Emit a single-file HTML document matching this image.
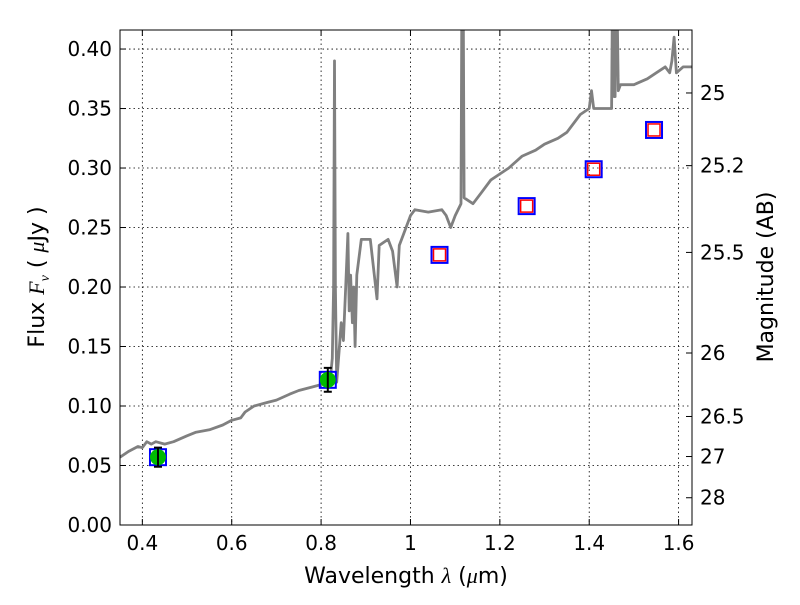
<!DOCTYPE html>
<html><head><meta charset="utf-8"><style>
body{margin:0;background:#fff;}
svg text{font-family:"DejaVu Sans","Liberation Sans",sans-serif;fill:#000;}
</style></head><body>
<svg id="chart" width="800" height="600" viewBox="0 0 800 600" xmlns="http://www.w3.org/2000/svg">
<g id="grid"></g>
<g id="spec"></g>
<g id="marks"></g>
<rect x="120" y="30" width="572" height="495" fill="none" stroke="#000" stroke-width="1"/>
<g id="axes"></g>
<text x="406" y="583" font-size="22" text-anchor="middle">Wavelength  <tspan font-style="italic" font-family="Liberation Serif">λ</tspan> (<tspan font-style="italic" font-family="Liberation Serif">μ</tspan>m)</text>
<text transform="translate(44,277) rotate(-90)" font-size="22" text-anchor="middle">Flux  <tspan font-style="italic" font-family="Liberation Serif">F</tspan><tspan font-style="italic" font-family="Liberation Serif" font-size="14" dy="5">ν</tspan><tspan dy="-5">   (  </tspan><tspan font-style="italic" font-family="Liberation Serif">μ</tspan>Jy )</text>
<text transform="translate(773,277) rotate(-90)" font-size="22" text-anchor="middle">Magnitude (AB)</text>
</svg>
<script>
const xTicks=[0.4,0.6,0.8,1.0,1.2,1.4,1.6];
const xTickLabels=["0.4","0.6","0.8","1","1.2","1.4","1.6"];
const yTicks=[0,0.05,0.10,0.15,0.20,0.25,0.30,0.35,0.40];
const yTickLabels=["0.00","0.05","0.10","0.15","0.20","0.25","0.30","0.35","0.40"];
const magTicks=[25,25.2,25.5,26,26.5,27,28];
const magTickLabels=["25","25.2","25.5","26","26.5","27","28"];
const specWave=[0.35,0.37,0.39,0.40,0.41,0.42,0.43,0.45,0.47,0.5,0.52,0.55,0.58,0.6,0.62,0.63,0.65,0.68,0.7,0.73,0.75,0.78,0.8,0.82,0.825,0.828,0.83,0.832,0.835,0.84,0.845,0.85,0.855,0.86,0.863,0.866,0.87,0.873,0.876,0.88,0.89,0.91,0.925,0.93,0.95,0.96,0.97,0.975,0.985,1.0,1.01,1.04,1.07,1.08,1.09,1.1,1.113,1.115,1.118,1.12,1.14,1.16,1.18,1.2,1.22,1.25,1.28,1.3,1.33,1.35,1.38,1.4,1.405,1.41,1.45,1.452,1.454,1.456,1.458,1.46,1.462,1.465,1.47,1.5,1.53,1.55,1.57,1.58,1.585,1.59,1.595,1.61,1.63];
const specFlux=[0.057,0.062,0.066,0.065,0.07,0.068,0.07,0.068,0.07,0.075,0.078,0.08,0.084,0.088,0.09,0.095,0.1,0.103,0.105,0.11,0.113,0.116,0.118,0.12,0.14,0.2,0.39,0.2,0.12,0.145,0.17,0.155,0.2,0.245,0.18,0.21,0.17,0.2,0.15,0.21,0.24,0.24,0.19,0.235,0.24,0.23,0.2,0.235,0.245,0.26,0.265,0.263,0.265,0.26,0.25,0.26,0.27,0.45,0.45,0.275,0.27,0.28,0.29,0.295,0.3,0.31,0.315,0.32,0.325,0.33,0.345,0.35,0.365,0.35,0.35,0.45,0.45,0.36,0.36,0.45,0.45,0.365,0.37,0.37,0.375,0.38,0.385,0.38,0.39,0.41,0.38,0.385,0.385];
const photWave=[0.435,0.815,1.065,1.26,1.41,1.545];
const photFlux=[0.057,0.122,0.227,0.268,0.299,0.332];
const photErr=[0.008,0.01,0,0,0,0];
const photDetected=[true,true,false,false,false,false];

const X0=120,X1=692,Y0=525,Y1=30,XMIN=0.35,XMAX=1.63,YMIN=0,YMAX=0.416;
const sx=v=>X0+(v-XMIN)/(XMAX-XMIN)*(X1-X0);
const sy=v=>Y0-(v-YMIN)/(YMAX-YMIN)*(Y0-Y1);
const NS="http://www.w3.org/2000/svg";
function mk(tag,attrs,parent){const e=document.createElementNS(NS,tag);for(const k in attrs)e.setAttribute(k,attrs[k]);parent.appendChild(e);return e;}
const grid=document.getElementById('grid'),axes=document.getElementById('axes');
xTicks.forEach((t,i)=>{const x=sx(t);
 let g=mk('line',{x1:x,x2:x,y1:Y1,y2:Y0,stroke:'#000','stroke-width':0.8,'stroke-dasharray':'1.5,3'},grid);
 
 mk('line',{x1:x,x2:x,y1:Y0,y2:Y0-6,stroke:'#000'},axes);mk('line',{x1:x,x2:x,y1:Y1,y2:Y1+6,stroke:'#000'},axes);
 let l=mk('text',{x:x,y:Y0+25,'font-size':20,'text-anchor':'middle'},axes);l.textContent=xTickLabels[i];
 });
yTicks.forEach((t,i)=>{const y=sy(t);
 let g=mk('line',{x1:X0,x2:X1,y1:y,y2:y,stroke:'#000','stroke-width':0.8,'stroke-dasharray':'1.5,3'},grid);
 
 mk('line',{x1:X0,x2:X0+6,y1:y,y2:y,stroke:'#000'},axes);
 let l=mk('text',{x:X0-8,y:y+7,'font-size':20,'text-anchor':'end'},axes);l.textContent=yTickLabels[i];
 });
magTicks.forEach((m,i)=>{const y=sy(Math.pow(10,(23.9-m)/2.5));
 mk('line',{x1:X1,x2:X1-6,y1:y,y2:y,stroke:'#000'},axes);
 let l=mk('text',{x:X1+8,y:y+7,'font-size':20},axes);l.textContent=magTickLabels[i];
 });
const spec=document.getElementById('spec');
const cp=mk('clipPath',{id:'clip'},spec);mk('rect',{x:X0,y:Y1,width:X1-X0,height:Y0-Y1},cp);
let d=specWave.map((w,i)=>(i?'L':'M')+sx(w).toFixed(1)+','+sy(specFlux[i]).toFixed(1)).join('');
let p=mk('path',{d:d,fill:'none',stroke:'#808080','stroke-width':2.8,'clip-path':'url(#clip)','stroke-linejoin':'round'},spec);

const marks=document.getElementById('marks');
photWave.forEach((w,i)=>{const x=sx(w),y=sy(photFlux[i]);
 let b=mk('rect',{x:x-8,y:y-8,width:16,height:16,fill:'none',stroke:'#0000ff','stroke-width':2},marks);
 
 if(photDetected[i]){
  let c=mk('circle',{cx:x,cy:y,r:8,fill:'#00bb00'},marks);
  
  const yt=sy(photFlux[i]+photErr[i]),yb=sy(photFlux[i]-photErr[i]);
  let e=mk('path',{d:`M${x},${yt}L${x},${yb}M${x-4},${yt}L${x+4},${yt}M${x-4},${yb}L${x+4},${yb}`,stroke:'#000','stroke-width':2},marks);
  
 } else {
  let r=mk('rect',{x:x-6,y:y-6,width:12,height:12,fill:'none',stroke:'#ff0000','stroke-width':1.5},marks);
  
 }});
</script>
</body></html>
